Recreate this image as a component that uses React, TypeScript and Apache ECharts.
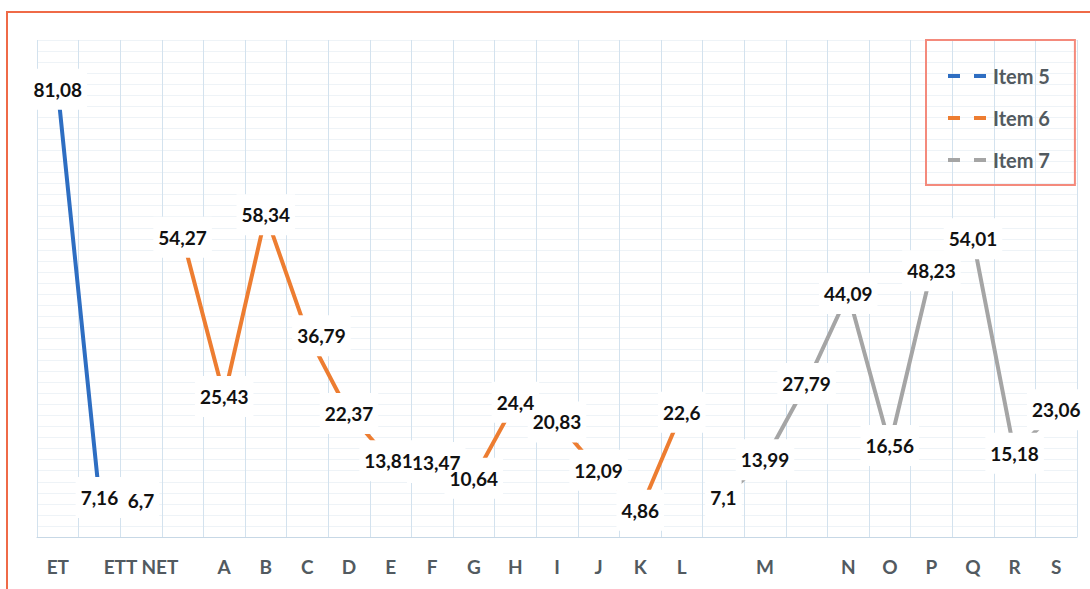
import React, { useEffect, useRef } from "react";
import * as echarts from "echarts";

const categories = ["ET", "", "ETT NET", " ", "A", "B", "C", "D", "E", "F", "G", "H", "I", "J", "K", "L", "  ", "M", "   ", "N", "O", "P", "Q", "R", "S"];
const item5 = [81.08, 7.16, 6.7, null, null, null, null, null, null, null, null, null, null, null, null, null, null, null, null, null, null, null, null, null, null];
const item6 = [null, null, null, 54.27, 25.43, 58.34, 36.79, 22.37, 13.81, 13.47, 10.64, 24.4, 20.83, 12.09, 4.86, 22.6, null, null, null, null, null, null, null, null, null];
const item7 = [null, null, null, null, null, null, null, null, null, null, null, null, null, null, null, null, 7.1, 13.99, 27.79, 44.09, 16.56, 48.23, 54.01, 15.18, 23.06];
const seriesNames = ["Item 5", "Item 6", "Item 7"];
const seriesColors = ["#2e6ec2", "#ed7d31", "#a5a5a5"];

const FONT = "Lato";

// label nudges (styling only) keyed by "series:index"
const labelOffsets: Record<string, number[]> = {
  "1:6": [14, 2],
  "1:8": [-2, 0],
  "1:9": [4, 0],
};

export default function App() {
  const ref = useRef<HTMLDivElement>(null);
  useEffect(() => {
    const chart = echarts.init(ref.current, null, { renderer: "svg" });
    const all = [item5, item6, item7];
    const fmt = (p: any) => String(p.value).replace(".", ",");
    const lineSeries = all.map((d, i) => ({
      name: seriesNames[i],
      type: "line",
      data: d,
      symbol: "none",
      connectNulls: false,
      lineStyle: { width: 4, color: seriesColors[i] },
      itemStyle: { color: seriesColors[i] },
      z: 2,
    }));
    const mkLabels = (layer: "bg" | "text", zz: number) =>
      all.map((d, i) => ({
        name: layer + i,
        type: "scatter",
        data: d.map((v, j) => {
          const off = labelOffsets[i + ":" + j];
          if (v === null) return null;
          return off ? { value: v, label: { offset: off } } : v;
        }),
        symbol: "circle",
        symbolSize: 1,
        itemStyle: { color: "rgba(0,0,0,0)", opacity: 1 },
        z: zz,
        silent: true,
        label: {
          show: true,
          position: "inside",
          color: layer === "bg" ? "rgba(255,255,255,0)" : "#111",
          opacity: 1,
          fontFamily: FONT,
          fontWeight: "bold",
          fontSize: 19,
          backgroundColor: layer === "bg" ? "#ffffff" : "transparent",
          padding: layer === "bg" ? [11, 5] : 0,
          formatter: fmt,
        },
      }));
    chart.setOption({
      animation: false,
      backgroundColor: "#ffffff",
      grid: { left: 37, right: 13, top: 40, bottom: 52, containLabel: false },
      xAxis: {
        type: "category",
        data: categories,
        boundaryGap: true,
        axisTick: { show: false },
        axisLine: { lineStyle: { color: "#c7d8e6", width: 1 } },
        axisLabel: {
          interval: 0,
          color: "#525a60",
          fontFamily: FONT,
          fontWeight: "bold",
          fontSize: 19,
          margin: 20,
        },
        splitLine: { show: true, interval: 0, lineStyle: { color: "#d3e2ee", width: 1 } },
      },
      yAxis: {
        type: "value",
        min: 0,
        max: 90,
        interval: 2,
        axisLabel: { show: false },
        axisLine: { show: false },
        axisTick: { show: false },
        splitLine: { show: true, lineStyle: { color: "#eef3f7", width: 1 } },
      },
      legend: {
        left: 926,
        top: 40,
        orient: "vertical",
        data: seriesNames,
        itemWidth: 40,
        itemHeight: 14,
        itemGap: 22,
        padding: [26, 25, 15, 20],
        borderColor: "#f48a7c",
        borderWidth: 2,
        selectedMode: false,
        itemStyle: { opacity: 0, borderWidth: 0 },
        lineStyle: { type: [12, 14], width: 4 },
        textStyle: { color: "#525a60", fontFamily: FONT, fontWeight: "bold", fontSize: 20 },
      },
      graphic: [
        {
          type: "rect",
          shape: { x: 7, y: 12, width: 1200, height: 700 },
          style: { fill: "none", stroke: "#ef6a47", lineWidth: 2 },
          silent: true,
          z: 100,
        },
      ],
      series: [...lineSeries, ...mkLabels("bg", 5), ...mkLabels("text", 6)],
    });
    return () => chart.dispose();
  }, []);
  return (
    <div
      ref={ref}
      style={{ position: "fixed", left: 0, top: 0, width: 1090, height: 589, background: "#fff" }}
    />
  );
}
